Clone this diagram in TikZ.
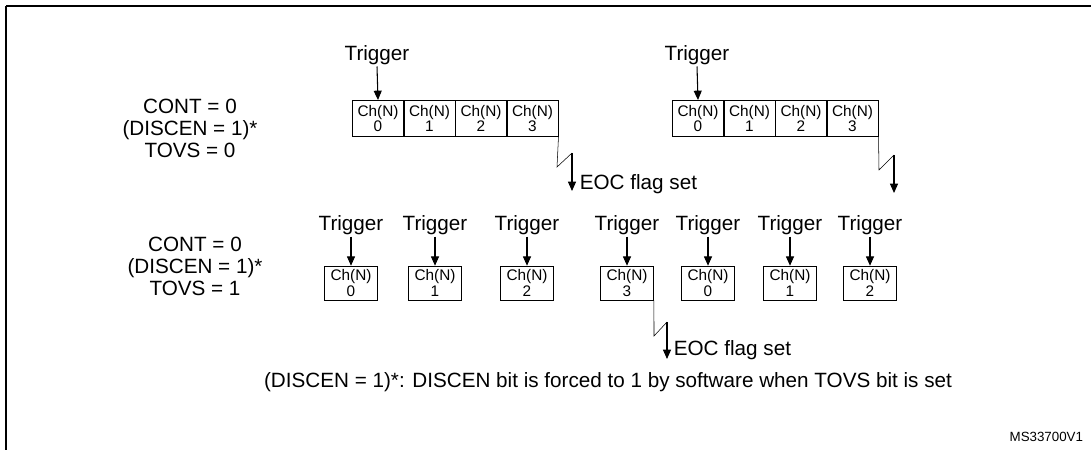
\documentclass[tikz,border=0pt]{standalone}
\usepackage{fontspec}
\setmainfont{Liberation Sans}
\usetikzlibrary{arrows.meta, positioning}

\tikzset{
	chan/.style={draw, thin, inner sep=0pt, align=center, font=\fontsize{11.5}{11.5}\selectfont},
	trig/.style={font=\fontsize{15.5}{16}\selectfont, inner sep=1pt},
	cond/.style={align=center, font=\fontsize{15.5}{16.5}\selectfont},
	eoc/.style={font=\fontsize{15.5}{16}\selectfont, anchor=west, inner sep=1pt},
}

\begin{document}
\begin{tikzpicture}[x=0.75pt,y=-0.75pt,>={Triangle[length=7pt,width=6pt]},thick]
	\useasboundingbox (0,0) rectangle (1091,450);
	\draw[line width=2pt] (6,6) -- (1091,6);
	\draw[line width=1.2pt] (6,6) -- (6,450);
	
	% first row: continuous groups of four
	\node (c1) [cond] at (190,128) {CONT = 0\\(DISCEN = 1)*\\TOVS = 0};
	\foreach \g/\x in {a/352, b/672} {
		\foreach \i in {0,...,3} {
			\node (\g\i) [chan, minimum width=38.6pt, minimum height=27pt, anchor=north west]
				at (\x+51.5*\i,100) {Ch(N)\\\i};
		}
		\node (t\g) [trig] at (\x+25,55) {Trigger};
		\draw[->] (t\g.south) -- (\g0.north);
	}
	\coordinate (za) at (557,167);
	\coordinate (zb) at (879,170);
	\draw[thin] (a3.south east) -- (za) -- (572,153) coordinate (ka);
	\draw[thin] (b3.south east) -- (zb) -- (894,155) coordinate (kb);
	\draw[->] (ka) -- (572,191) coordinate (ea);
	\draw[->] (kb) -- (894,193);
	\node [eoc] at (578,184) {EOC flag set};
	
	% second row: one channel per trigger
	\node (c2) [cond] at (195,266) {CONT = 0\\(DISCEN = 1)*\\TOVS = 1};
	\foreach \n/\x/\c in {0/351/0, 1/435/1, 2/527/2, 3/627/3, 4/708/0, 5/790/1, 6/870/2} {
		\node (r\n) [chan, minimum width=40pt, minimum height=25.5pt] at (\x,283) {Ch(N)\\\c};
		\node (s\n) [trig] at (\x,225) {Trigger};
		\draw[->] (s\n.south) -- (r\n.north);
	}
	\draw[thin] (r3.south east) -- (654,336) -- (667,322) coordinate (kr);
	\draw[->] (kr) -- (667,359);
	\node [eoc] at (672,350) {EOC flag set};
	
	\node (note) [trig] at (608,382) {(DISCEN = 1)*: DISCEN bit is forced to 1 by software when TOVS bit is set};
	\node (ref) [anchor=east, font=\fontsize{10}{10}\selectfont] at (1088,437) {MS33700V1};
\end{tikzpicture}
\end{document}
